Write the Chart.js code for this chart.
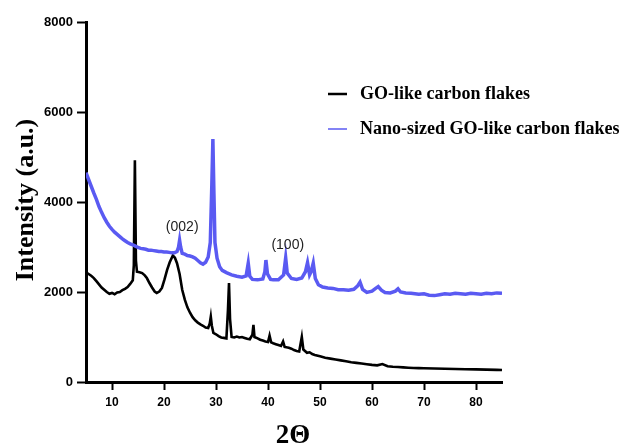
<!DOCTYPE html>
<html>
<head>
<meta charset="utf-8">
<script src="https://cdn.jsdelivr.net/npm/chart.js@4.4.1/dist/chart.umd.min.js"></script>
<style>
  html, body { margin: 0; padding: 0; background: #fff; }
  #wrap { width: 627px; height: 448px; }
</style>
</head>
<body>
<div id="wrap"><canvas id="xrdChart" width="627" height="448"></canvas></div>
<script>
// GO-like carbon flakes (black)
const goAngles = [5, 5.5, 6, 6.5, 7, 7.5, 8, 8.5, 9, 9.5, 10, 10.5, 11, 11.5, 12, 12.5, 13, 13.5, 14, 14.2, 14.4, 14.6, 14.8,
  15.3, 15.8, 16.3, 16.7, 17.2, 17.7, 18.2, 18.6, 19.1, 19.6, 20.1, 20.6, 21.1, 21.7, 22.1, 22.5, 23, 23.5, 24, 24.5, 25,
  25.5, 26, 26.5, 27, 27.5, 28, 28.5, 28.8, 29, 29.2, 29.5, 30, 30.5, 31, 31.5, 32, 32.3, 32.5, 32.7, 33, 33.5, 34, 34.5,
  35, 35.5, 36, 36.5, 37, 37.2, 37.4, 38, 38.5, 39, 39.5, 40, 40.3, 40.6, 41, 41.5, 42, 42.5, 42.9, 43.2, 44, 44.5, 45,
  45.5, 46, 46.5, 46.8, 47.5, 48, 48.5, 49, 50, 51, 52, 53, 54, 55, 56, 57, 58, 59, 60, 61, 62, 63, 64, 65, 66, 67, 68,
  69, 70, 72, 74, 76, 78, 80, 82, 84, 85];
const goIntensity = [2440, 2400, 2360, 2310, 2240, 2170, 2100, 2050, 2000, 1960, 1980, 1950, 1990, 2000, 2040, 2070, 2110, 2180, 2260, 2600, 4930, 2700, 2450,
  2440, 2420, 2370, 2310, 2200, 2100, 2010, 1980, 2010, 2090, 2280, 2490, 2660, 2810, 2760, 2640, 2400, 2050, 1830, 1660, 1540,
  1440, 1370, 1320, 1280, 1250, 1210, 1200, 1300, 1450, 1250, 1090, 1060, 1020, 990, 980, 970, 1600, 2200, 1400, 1000, 990, 1010, 990,
  1000, 980, 960, 950, 1050, 1270, 1000, 970, 940, 920, 900, 890, 1030, 880, 860, 840, 820, 800, 900, 780, 760, 740, 710,
  690, 680, 1000, 720, 650, 660, 620, 600, 570, 540, 520, 500, 480, 460, 440, 425, 410, 395, 380, 370, 400, 350, 340, 333, 325, 318, 312,
  308, 305, 300, 295, 290, 285, 280, 275, 270, 265];

// Nano-sized GO-like carbon flakes (blue)
const nanoAngles = [5, 5.5, 6, 6.5, 7, 7.5, 8, 8.5, 9, 9.5, 10, 10.5, 11, 11.5, 12, 12.5, 13, 13.5, 14, 14.5, 15, 15.5, 16, 16.5,
  17, 17.5, 18, 18.5, 19, 19.5, 20, 20.5, 21, 21.5, 22, 22.5, 22.8, 23, 23.2, 23.5, 24, 24.5, 25, 25.5, 26, 26.5, 27, 27.5,
  28, 28.5, 28.9, 29.2, 29.4, 29.6, 29.8, 30.2, 30.7, 31.2, 32, 33, 34, 35, 35.8, 36.2, 36.5, 37, 38, 39, 39.4, 39.6, 39.9,
  40.5, 41, 42, 43, 43.4, 43.7, 44.5, 45.5, 46.5, 47.2, 47.6, 48, 48.3, 48.7, 49.1, 49.7, 50.5, 51.5, 52.5, 53.5, 54.5, 55.5,
  56.5, 57.2, 57.7, 58.2, 59, 60, 60.7, 61.2, 61.8, 62.5, 63.5, 64.5, 65, 65.5, 66.5, 67.5, 69, 70, 71, 72, 73, 74, 75, 76,
  77, 78, 79, 80, 81, 82, 83, 84, 85];
const nanoIntensity = [4650, 4500, 4350, 4200, 4060, 3900, 3770, 3650, 3550, 3460, 3390, 3330, 3280, 3230, 3180, 3140, 3100, 3070, 3050, 3020, 2990, 2970, 2960, 2950,
  2930, 2930, 2920, 2910, 2900, 2900, 2890, 2890, 2880, 2870, 2870, 2900, 3000, 3150, 3000, 2860, 2840, 2810, 2800, 2780, 2750, 2700, 2650, 2620,
  2660, 2780, 3100, 4400, 5400, 4200, 3100, 2750, 2560, 2480, 2430, 2380, 2350, 2330, 2360, 2640, 2350, 2280, 2270, 2290, 2450, 2710, 2400,
  2280, 2270, 2270, 2380, 2760, 2420, 2300, 2280, 2310, 2450, 2650, 2380, 2450, 2640, 2300, 2160, 2110, 2090, 2080, 2050, 2050, 2040,
  2060, 2130, 2220, 2060, 1990, 2020, 2080, 2120, 2040, 1990, 1980, 2020, 2070, 2000, 1980, 1970, 1950, 1960, 1930, 1920, 1940, 1960, 1950, 1970,
  1960, 1950, 1970, 1960, 1950, 1970, 1960, 1980, 1970];

const seriesNames = ['GO-like carbon flakes', 'Nano-sized GO-like carbon flakes'];
const xTicks = [10, 20, 30, 40, 50, 60, 70, 80];
const yTicks = [0, 2000, 4000, 6000, 8000];
const peakLabels = ['(002)', '(100)'];
const peakLabelAt = [[23.5, 3440], [43.8, 3040]];

const BLUE = '#5a5af2';

function toPoints(xs, ys) {
  return xs.map((x, i) => ({ x: x, y: ys[i] }));
}

// titles, legend and peak labels
const extras = {
  id: 'extras',
  afterDraw(chart) {
    const ctx = chart.ctx;
    const xs = chart.scales.x, ys = chart.scales.y;
    ctx.save();
    ctx.fillStyle = '#000';

    ctx.font = 'bold 26px "Liberation Serif", "Times New Roman", serif';
    ctx.textAlign = 'center';
    ctx.textBaseline = 'middle';
    ctx.save();
    ctx.translate(26, 200);
    ctx.rotate(-Math.PI / 2);
    ctx.fillText('Intensity (a.u.)', 0, 0);
    ctx.restore();

    ctx.font = 'bold 27px "Liberation Serif", "Times New Roman", serif';
    ctx.fillText('2\u0398', 293, 436);

    // legend
    const colors = ['#000', BLUE];
    const widths = [2.5, 1.5];
    const rows = [94, 129];
    ctx.font = 'bold 18px "Liberation Serif", "Times New Roman", serif';
    ctx.textAlign = 'left';
    seriesNames.forEach((name, i) => {
      ctx.strokeStyle = colors[i];
      ctx.lineWidth = widths[i];
      ctx.beginPath();
      ctx.moveTo(328, rows[i]);
      ctx.lineTo(347, rows[i]);
      ctx.stroke();
      ctx.fillStyle = '#000';
      ctx.fillText(name, 360, rows[i]);
    });

    // peak labels
    ctx.font = '14px "Liberation Sans", Arial, sans-serif';
    ctx.textAlign = 'center';
    ctx.fillStyle = '#222';
    peakLabels.forEach((t, i) => {
      ctx.fillText(t, xs.getPixelForValue(peakLabelAt[i][0]), ys.getPixelForValue(peakLabelAt[i][1]));
    });
    ctx.restore();
  }
};

const axisGrid = {
  drawOnChartArea: false,
  drawTicks: true,
  tickLength: 9,
  tickWidth: 2,
  tickColor: '#000'
};

new Chart(document.getElementById('xrdChart'), {
  type: 'scatter',
  data: {
    datasets: [
      {
        label: seriesNames[1],
        data: toPoints(nanoAngles, nanoIntensity),
        showLine: true,
        borderColor: BLUE,
        borderWidth: 3.5,
        pointRadius: 0,
        tension: 0
      },
      {
        label: seriesNames[0],
        data: toPoints(goAngles, goIntensity),
        showLine: true,
        borderColor: '#000',
        borderWidth: 2.6,
        pointRadius: 0,
        tension: 0
      }
    ]
  },
  options: {
    responsive: false,
    animation: false,
    layout: { padding: { top: 22, right: 125, left: 0, bottom: 0 } },
    plugins: {
      legend: { display: false },
      tooltip: { enabled: false }
    },
    scales: {
      x: {
        type: 'linear',
        min: 5,
        max: 85,
        afterBuildTicks: s => { s.ticks = xTicks.map(v => ({ value: v })); },
        afterFit: s => { s.height = 66; },
        border: { color: '#000', width: 3 },
        grid: Object.assign({}, axisGrid, { tickLength: 8 }),
        ticks: {
          color: '#000',
          padding: 5,
          maxRotation: 0,
          callback: v => String(v),
          font: { family: '"Liberation Sans", Arial, sans-serif', size: 12, weight: 'bold' }
        }
      },
      y: {
        min: 0,
        max: 8000,
        afterBuildTicks: s => { s.ticks = yTicks.map(v => ({ value: v })); },
        afterFit: s => { s.width = 86; },
        border: { color: '#000', width: 3 },
        grid: axisGrid,
        ticks: {
          color: '#000',
          padding: 4,
          callback: v => String(v),
          font: { family: '"Liberation Sans", Arial, sans-serif', size: 13, weight: 'bold' }
        }
      }
    }
  },
  plugins: [extras]
});
</script>
</body>
</html>
